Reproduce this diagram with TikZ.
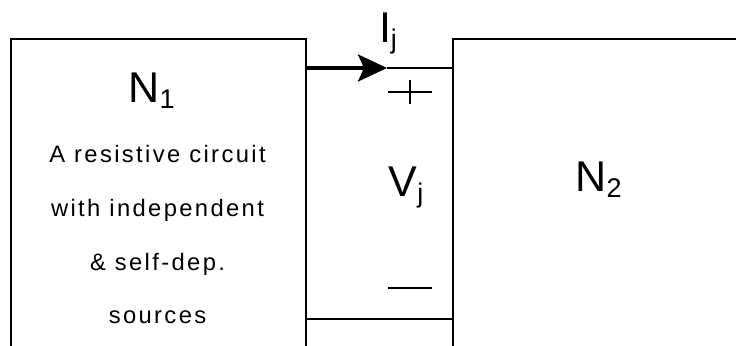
\documentclass[tikz,border=0pt]{standalone}
\usepackage{fontspec}
\setmainfont{Liberation Sans}
\newfontfamily\bodyfont[LetterSpace=10]{Liberation Sans}
\usetikzlibrary{arrows.meta, positioning}
\newcommand{\lowidx}[1]{\raisebox{-3.6pt}{\fontsize{19.2pt}{20pt}\selectfont #1}}
\tikzset{
  netbox/.style={
    draw, line width=1.4pt, anchor=north west, inner sep=0pt,
    minimum height=8.55cm
  },
  wireline/.style={line width=1.3pt},
  currentarrow/.style={
    line width=2.2pt, -{Stealth[length=7.25mm, width=6.75mm, inset=1.5mm]}
  },
  polarity/.style={line width=1.1pt},
  biglabel/.style={
    font=\fontsize{30.6pt}{32pt}\selectfont, inner sep=0pt, anchor=base
  },
  bodytext/.style={
    font=\bodyfont\fontsize{16.9pt}{38.2pt}\selectfont, align=center,
    inner sep=0pt, anchor=base
  },
}
\begin{document}
\begin{tikzpicture}[x=0.025cm, y=-0.025cm]
  \useasboundingbox (0,0) rectangle (736,346);
  \clip (0,0) rectangle (736,346);

  % the two networks
  \node[netbox, minimum width=7.375cm] (n1box) at (10,38) {};
  \node[netbox, minimum width=8cm] (n2box) at (452,38) {};

  % rails between them
  \coordinate (toprail) at (0,68);
  \coordinate (botrail) at (0,319);
  \coordinate (ijtip) at (387,68);
  \draw[currentarrow] (n1box.east |- toprail) -- (ijtip);
  \draw[wireline] (ijtip) -- (n2box.west |- toprail);
  \draw[wireline] (n1box.east |- botrail) -- (n2box.west |- botrail);

  % polarity marks
  \coordinate (vplus) at (410,92);
  \coordinate (vminus) at (410,288);
  \draw[polarity] ([xshift=-0.54cm]vplus) -- ([xshift=0.54cm]vplus)
    ([yshift=0.31cm]vplus) -- ([yshift=-0.31cm]vplus);
  \draw[polarity] ([xshift=-0.54cm]vminus) -- ([xshift=0.54cm]vminus);

  % labels
  \node[biglabel] (n1label) at (151.5,103) {N\lowidx{1}};
  \node[biglabel] (ijlabel) at (388,43) {I\lowidx{j}};
  \node[biglabel] (vjlabel) at (406,197) {V\lowidx{j}};
  \node[biglabel] (n2label) at (598.5,192) {N\lowidx{2}};
  \node[bodytext] (n1text) at (157.5,324)
    {A resistive circuit\\with independent\\\& self-dep.\\sources};
\end{tikzpicture}
\end{document}
